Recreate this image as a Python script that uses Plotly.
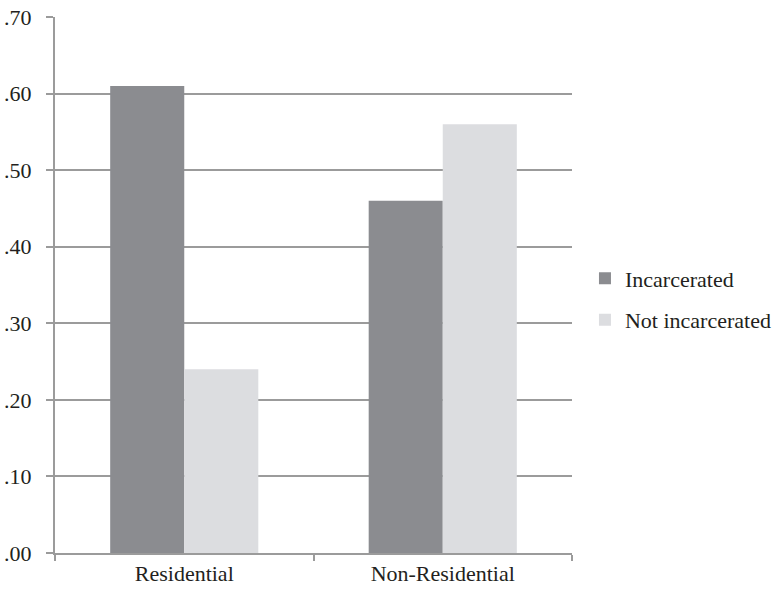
import plotly.graph_objects as go

categories = ["Residential", "Non-Residential"]
incarcerated = [0.61, 0.46]
not_incarcerated = [0.24, 0.56]
tick_vals = [0.0, 0.1, 0.2, 0.3, 0.4, 0.5, 0.6, 0.7]
tick_text = [".00", ".10", ".20", ".30", ".40", ".50", ".60", ".70"]

FONT = "Liberation Serif, Times New Roman, serif"
GRID = "#9b9b9b"
FS = 22

fig = go.Figure()
fig.add_trace(go.Bar(x=categories, y=incarcerated, name="Incarcerated",
                     marker=dict(color="#8b8c90", line=dict(width=0)),
                     legendgroup="a"))
fig.add_trace(go.Bar(x=categories, y=not_incarcerated, name="Not incarcerated",
                     marker=dict(color="#dcdde0", line=dict(width=0)),
                     legendgroup="b"))

fig.update_layout(
    width=775, height=593,
    margin=dict(l=55, r=203, t=17, b=40),
    paper_bgcolor="white", plot_bgcolor="white",
    font=dict(family=FONT, size=FS, color="#231f20"),
    barmode="group", bargap=0.427, bargroupgap=0,
    showlegend=True,
    legend=dict(x=0.7548, xanchor="left", y=0.495, yanchor="middle",
                xref="container", yref="container",
                traceorder="grouped", tracegroupgap=10,
                font=dict(family=FONT, size=FS, color="#231f20"),
                bgcolor="rgba(0,0,0,0)"),
    xaxis=dict(type="category", showline=True, linecolor=GRID, linewidth=2,
               ticks="outside", tickson="boundaries", ticklen=6, tickwidth=2,
               tickcolor=GRID, showgrid=False, zeroline=False, automargin=False,
               tickfont=dict(family=FONT, size=FS, color="#231f20")),
    yaxis=dict(range=[0, 0.70], tickvals=tick_vals, ticktext=tick_text,
               showline=True, linecolor=GRID, linewidth=2,
               showgrid=True, gridcolor=GRID, gridwidth=2,
               ticks="outside", ticklen=7, tickwidth=2, tickcolor=GRID,
               ticklabelstandoff=10, zeroline=False, automargin=False,
               tickfont=dict(family=FONT, size=FS, color="#231f20")),
)

fig.write_html("out.html")
